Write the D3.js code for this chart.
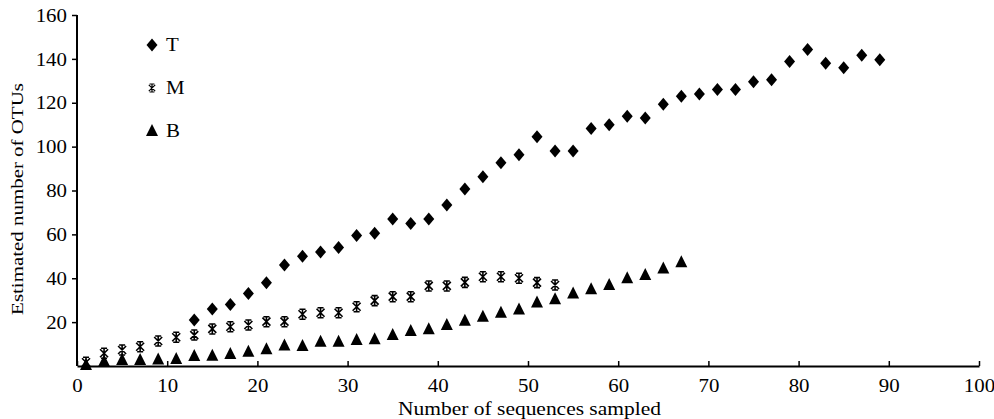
<!DOCTYPE html>
<html>
<head>
<meta charset="utf-8">
<script src="https://cdn.jsdelivr.net/npm/d3@7"></script>
<style>
  html, body { margin: 0; padding: 0; background: #fff; }
  svg { display: block; font-family: "Liberation Serif", "Times New Roman", serif; }
</style>
</head>
<body>
<div id="chart"></div>
<script>
// sequences sampled (x) and estimated OTUs (y) for each sample
const sampledT = [13, 15, 17, 19, 21, 23, 25, 27, 29, 31, 33, 35, 37, 39, 41, 43, 45, 47, 49, 51,
                  53, 55, 57, 59, 61, 63, 65, 67, 69, 71, 73, 75, 77, 79, 81, 83, 85, 87, 89];
const otuT = [21, 26, 28, 33, 38, 46, 50, 52, 54, 59.5, 60.5, 67, 65, 67, 73.4, 80.7, 86.3, 92.7, 96.3, 104.5,
              98, 98, 108.3, 110, 113.8, 113, 119.3, 123, 124, 126, 126, 129.6, 130.5, 138.8, 144.3, 138, 136, 141.6, 139.6];

const sampledM = [1, 3, 5, 7, 9, 11, 13, 15, 17, 19, 21, 23, 25, 27, 29, 31, 33, 35, 37, 39,
                  41, 43, 45, 47, 49, 51, 53];
const otuM = [1.7, 5.8, 7.3, 8.8, 11.4, 13.1, 14.1, 16.9, 17.9, 18.7, 20.2, 20.2, 23.6, 24.3, 24.3, 27, 29.8, 31.6, 31.6, 36.5,
              36.5, 38.1, 40.7, 40.7, 40, 38, 36.9];

const sampledB = [1, 3, 5, 7, 9, 11, 13, 15, 17, 19, 21, 23, 25, 27, 29, 31, 33, 35, 37, 39,
                  41, 43, 45, 47, 49, 51, 53, 55, 57, 59, 61, 63, 65, 67];
const otuB = [0.5, 2, 2.7, 2.7, 3, 3.2, 4.6, 4.7, 5.5, 6.5, 7.6, 9.3, 9.1, 11.1, 11.1, 11.9, 12.2, 14.1, 16, 16.7,
              18.7, 20.6, 22.5, 24.3, 25.8, 28.9, 30.4, 33.1, 35, 36.9, 40, 41.5, 44.5, 47.3];

const seriesNames = ["T", "M", "B"];
const xTicks = [0, 10, 20, 30, 40, 50, 60, 70, 80, 90, 100];
const yTicks = [20, 40, 60, 80, 100, 120, 140, 160];
const xTitle = "Number of sequences sampled";
const yTitle = "Estimated number of OTUs";

const width = 994, height = 419;
const margin = { top: 15, right: 15, bottom: 53, left: 77 };
const innerW = 902, innerH = 351;
const stretch = 1.16; // the original picture is a bit wider than tall
const fontSize = "18px";

const svg = d3.select("#chart").append("svg")
    .attr("width", width)
    .attr("height", height);

const g = svg.append("g")
    .attr("transform", `translate(${margin.left},${margin.top})`);

const x = d3.scaleLinear().domain([0, 100]).range([0, innerW]);
const y = d3.scaleLinear().domain([0, 160]).range([innerH, 0]);

// marker shapes
const shapes = {
    T: { d: "M0,-6.5L5.5,0L0,6.5L-5.5,0Z", fill: "#000", stroke: "none" },
    B: { d: "M0,-7L6,5L-6,5Z", fill: "#000", stroke: "none" },
    M: { d: "M-4,-4L4,4M-4,4L4,-4M0,-5L0,5M-3,-5L3,-5M-3,5L3,5", fill: "none", stroke: "#000" }
};

// axes
const xAxis = g.append("g")
    .attr("transform", `translate(0,${innerH})`)
    .call(d3.axisBottom(x).tickValues(xTicks).tickSizeInner(-5).tickSizeOuter(0).tickPadding(0));
xAxis.select(".domain").attr("stroke", "#000").attr("stroke-width", 2);
xAxis.selectAll(".tick line").attr("stroke", "#000").attr("stroke-width", 1.5);
xAxis.selectAll(".tick text")
    .attr("y", 0).attr("dy", 0)
    .attr("transform", `translate(0,26) scale(${stretch},1)`)
    .attr("fill", "#000")
    .style("font-size", fontSize)
    .style("font-family", "Liberation Serif, serif");

const yAxis = g.append("g")
    .call(d3.axisLeft(y).tickValues(yTicks).tickSize(5).tickSizeOuter(0));
yAxis.select(".domain").attr("stroke", "#000").attr("stroke-width", 2)
    .attr("d", `M0,${innerH}V${y(160)}`);
yAxis.selectAll(".tick line").attr("stroke", "#000").attr("stroke-width", 1.5);
yAxis.selectAll(".tick text")
    .attr("x", 0).attr("dy", "0.34em")
    .attr("transform", `translate(-10,0) scale(${stretch},1)`)
    .attr("fill", "#000")
    .style("font-size", fontSize)
    .style("font-family", "Liberation Serif, serif");

// axis titles, fitted to the span they take in the original
const xt = svg.append("text")
    .attr("text-anchor", "middle")
    .style("font-size", fontSize)
    .text(xTitle);
const xtScale = 263 / xt.node().getComputedTextLength();
xt.attr("transform", `translate(529.5,415) scale(${xtScale},1)`);

const yt = svg.append("text")
    .attr("text-anchor", "middle")
    .style("font-size", "17px")
    .text(yTitle);
const ytScale = 232 / yt.node().getComputedTextLength();
yt.attr("transform", `translate(23,199) rotate(-90) scale(${ytScale},1.04)`);

// points
function drawSeries(name, xs, ys) {
    const s = shapes[name];
    g.append("g").selectAll("path")
        .data(xs.map((v, i) => [v, ys[i]]))
        .join("path")
        .attr("transform", d => `translate(${x(d[0])},${y(d[1])})`)
        .attr("d", s.d)
        .attr("fill", s.fill)
        .attr("stroke", s.stroke)
        .attr("stroke-width", 1.6);
}
drawSeries("B", sampledB, otuB);
drawSeries("M", sampledM, otuM);
drawSeries("T", sampledT, otuT);

// legend
const legend = svg.append("g").attr("transform", "translate(152,45)");
seriesNames.forEach((name, i) => {
    const s = shapes[name];
    const row = legend.append("g").attr("transform", `translate(0,${i * 43})`);
    row.append("path")
        .attr("d", s.d)
        .attr("fill", s.fill)
        .attr("stroke", s.stroke)
        .attr("stroke-width", 1.5)
        .attr("transform", name === "M" ? "scale(0.8)" : null);
    row.append("text")
        .attr("transform", `translate(14,6) scale(${stretch},1)`)
        .style("font-size", fontSize)
        .text(name);
});
</script>
</body>
</html>
